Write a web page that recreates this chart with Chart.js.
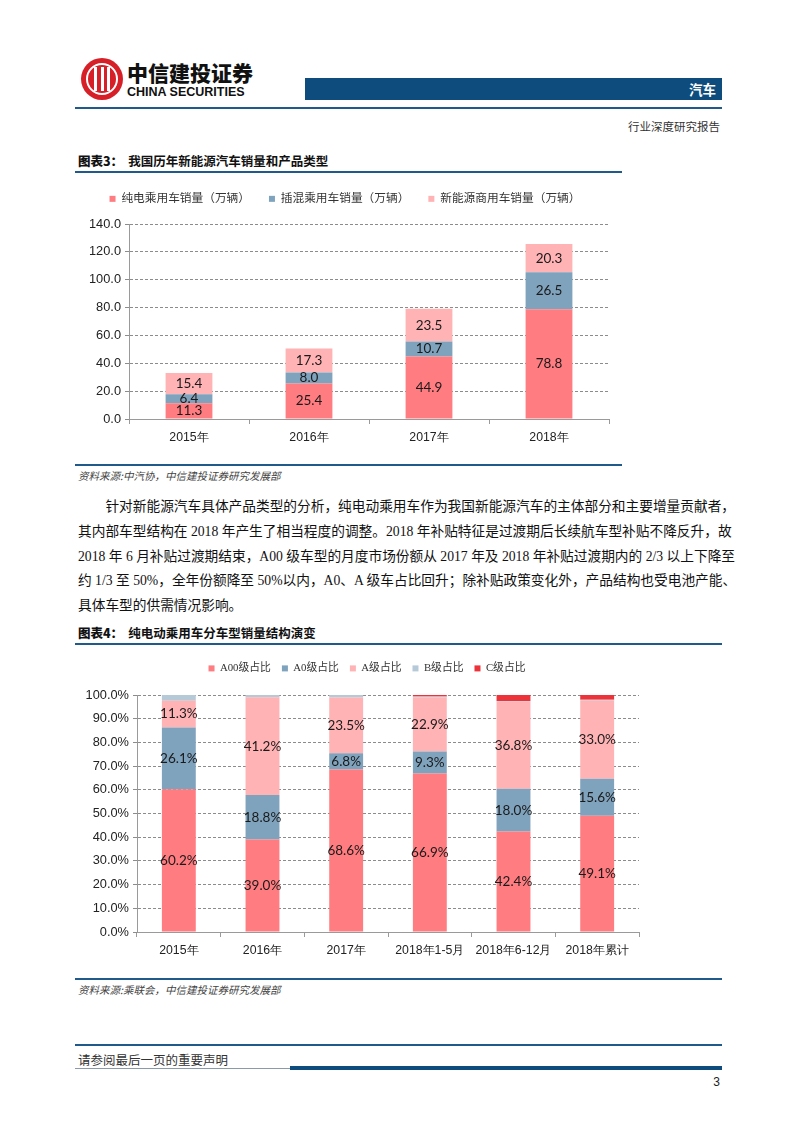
<!DOCTYPE html>
<html lang="zh">
<head>
<meta charset="UTF-8">
<title>汽车 行业深度研究报告</title>
<script src="https://cdn.jsdelivr.net/npm/chart.js"></script>
<style>
  body { margin: 0; background: #fff; }
  #page { position: relative; width: 802px; height: 1133px; background: #fff; overflow: hidden;
          font-family: "Noto Sans CJK SC", sans-serif; color: #222; }
  .abs { position: absolute; }
  .rule { position: absolute; height: 2px; background: #1f5a8a; }
  .logo { left: 81px; top: 58px; width: 42px; height: 42px; border-radius: 50%; background: #d71f27; }
  .logo .ring { position: absolute; left: 5px; top: 5px; width: 28px; height: 28px; border: 2px solid #fff; border-radius: 50%; }
  .logo .bar { position: absolute; top: 9px; width: 3px; height: 24px; background: #fff; }
  .brand { left: 127px; top: 57px; font-size: 21px; font-weight: 900; color: #111; }
  .brand-en { left: 127px; top: 85px; font-family: "Liberation Sans", Arial, sans-serif; font-size: 12.5px; font-weight: bold; color: #111; }
  .topbar { left: 305px; top: 78px; width: 417px; height: 22px; background: #0d4c7c; color: #fff;
            font-size: 13.5px; font-weight: bold; text-align: right; line-height: 22px; }
  .topbar span { padding-right: 6px; }
  .kind { right: 82px; top: 118px; font-size: 11.5px; color: #333; }
  .ctitle { left: 78px; font-size: 12.5px; font-weight: bold; color: #111; }
  .ctitle b { margin-right: 5px; }
  .src { left: 78px; font-size: 10.5px; font-style: italic; color: #444; }
  .para { left: 78px; top: 495px; width: 644px; font-family: "Liberation Serif", "Noto Sans CJK SC", serif;
          font-size: 13.7px; line-height: 24.8px; color: #111; }
  .para div { text-align: justify; text-align-last: justify; white-space: nowrap; }
  .para div.last { text-align-last: left; }
  .foot { left: 78px; top: 1050px; font-size: 12.5px; color: #333; }
  .pg { right: 82px; top: 1075px; font-family: "Liberation Sans", Arial, sans-serif; font-size: 12px; color: #222; }
</style>
</head>
<body>
<div id="page">
  <div class="abs logo"><div class="ring"></div><div class="bar" style="left:13px"></div><div class="bar" style="left:19.5px"></div><div class="bar" style="left:26px"></div></div>
  <div class="abs brand">中信建投证券</div>
  <div class="abs brand-en">CHINA SECURITIES</div>
  <div class="abs topbar"><span>汽车</span></div>
  <div class="rule" style="left:75px;top:107px;width:647px;height:1.5px;"></div>
  <div class="abs kind">行业深度研究报告</div>

  <div class="abs ctitle" style="top:151px;"><b>图表3：</b>我国历年新能源汽车销量和产品类型</div>
  <div class="rule" style="left:75px;top:171px;width:547px;"></div>
  <div class="abs" style="left:75px;top:180px;width:550px;height:270px;"><canvas id="salesChart"></canvas></div>
  <div class="rule" style="left:75px;top:464px;width:547px;height:1.5px;"></div>
  <div class="abs src" style="top:468px;">资料来源:中汽协，中信建投证券研究发展部</div>

  <div class="abs para">
    <div style="text-indent:2em;">针对新能源汽车具体产品类型的分析，纯电动乘用车作为我国新能源汽车的主体部分和主要增量贡献者，</div>
    <div>其内部车型结构在 2018 年产生了相当程度的调整。2018 年补贴特征是过渡期后长续航车型补贴不降反升，故</div>
    <div>2018 年 6 月补贴过渡期结束，A00 级车型的月度市场份额从 2017 年及 2018 年补贴过渡期内的 2/3 以上下降至</div>
    <div>约 1/3 至 50%，全年份额降至 50%以内，A0、A 级车占比回升；除补贴政策变化外，产品结构也受电池产能、</div>
    <div class="last">具体车型的供需情况影响。</div>
  </div>

  <div class="abs ctitle" style="top:623px;"><b>图表4：</b>纯电动乘用车分车型销量结构演变</div>
  <div class="rule" style="left:75px;top:643px;width:647px;"></div>
  <div class="abs" style="left:75px;top:650px;width:647px;height:315px;"><canvas id="mixChart"></canvas></div>
  <div class="rule" style="left:75px;top:978px;width:647px;height:1.5px;"></div>
  <div class="abs src" style="top:982px;">资料来源:乘联会，中信建投证券研究发展部</div>

  <div class="rule" style="left:75px;top:1044px;width:647px;"></div>
  <div class="abs foot">请参阅最后一页的重要声明</div>
  <div class="abs" style="left:75px;top:1068px;width:215px;height:1px;background:#8a9aa8;"></div>
  <div class="abs" style="left:290px;top:1066px;width:432px;height:4px;background:#0d4c7c;"></div>
  <div class="abs pg">3</div>
</div>

<script>
// 图表3 数据
const salesYears = ['2015年', '2016年', '2017年', '2018年'];
const bevPassenger = [11.3, 25.4, 44.9, 78.8];
const phevPassenger = [6.4, 8.0, 10.7, 26.5];
const nevCommercial = [15.4, 17.3, 23.5, 20.3];
const salesTicks = [0, 20, 40, 60, 80, 100, 120, 140];

// 图表4 数据
const mixPeriods = ['2015年', '2016年', '2017年', '2018年1-5月', '2018年6-12月', '2018年累计'];
const shareA00 = [60.2, 39.0, 68.6, 66.9, 42.4, 49.1];
const shareA0 = [26.1, 18.8, 6.8, 9.3, 18.0, 15.6];
const shareA = [11.3, 41.2, 23.5, 22.9, 36.8, 33.0];
const shareB = [2.4, 1.0, 1.1, 0.3, 0.3, 0.3];
const shareC = [0, 0, 0, 0.6, 2.5, 2.0];
const mixTicks = [0, 10, 20, 30, 40, 50, 60, 70, 80, 90, 100];

const xFont = { family: '"Liberation Sans", Arial, sans-serif', size: 12.3 };
const yFont = { family: '"Liberation Sans", Arial, sans-serif', size: 12.8 };
const serifCJK = '"Liberation Serif", "Noto Sans CJK SC", serif';

// 图例位置微调：固定高度、平移
const legendPlace = {
  id: 'legendPlace',
  beforeLayout(chart, args, opts) {
    const lg = chart.legend;
    if (lg && !lg._patched) {
      const fit = lg.fit;
      lg.fit = function () { fit.call(this); this.height = opts.h; };
      lg._patched = true;
    }
  },
  afterLayout(chart, args, opts) {
    const lg = chart.legend;
    lg.left += opts.dx; lg.right += opts.dx; lg.top += opts.dy;
  }
};

// 柱内数值标签
const barValues = {
  id: 'barValues',
  afterDatasetsDraw(chart, args, opts) {
    const ctx = chart.ctx;
    ctx.save();
    ctx.font = '13.5px Lato, "Open Sans", sans-serif';
    ctx.fillStyle = '#1a1a1a';
    ctx.textAlign = 'center';
    ctx.textBaseline = 'middle';
    chart.data.datasets.forEach((ds, i) => {
      if (ds.showValue === false) return;
      chart.getDatasetMeta(i).data.forEach((bar, j) => {
        const v = ds.data[j];
        if (!v) return;
        ctx.fillText(v.toFixed(1) + opts.suffix, bar.x, (bar.y + bar.base) / 2);
      });
    });
    ctx.restore();
  }
};

function stackedOptions(cfg) {
  return {
    responsive: true,
    maintainAspectRatio: false,
    animation: false,
    layout: { padding: { top: 0, right: cfg.padRight, left: 0, bottom: 0 } },
    plugins: {
      legend: {
        display: true,
        labels: {
          boxWidth: 6, boxHeight: 6, padding: cfg.legendGap, color: '#333',
          font: { family: serifCJK, size: cfg.legendSize }
        }
      },
      tooltip: { enabled: false },
      legendPlace: { h: cfg.legendH, dx: cfg.legendDx, dy: cfg.legendDy },
      barValues: { suffix: cfg.suffix }
    },
    scales: {
      x: {
        stacked: true,
        grid: { display: true, drawOnChartArea: false, color: '#9a9a9a', tickLength: 5, offset: true },
        border: { display: true, color: '#9a9a9a' },
        ticks: { color: '#222', font: xFont, padding: 6, maxRotation: 0, autoSkip: false },
        afterFit(scale) { scale.height = cfg.xH; }
      },
      y: {
        stacked: true,
        min: 0,
        max: cfg.max,
        afterBuildTicks(scale) { scale.ticks = cfg.ticks.map(v => ({ value: v })); },
        grid: { color: '#8c8c8c', lineWidth: 1, tickLength: 4, tickBorderDash: [] },
        border: { display: true, color: '#9a9a9a', dash: [3, 2] },
        ticks: {
          color: '#222', font: yFont, padding: 4,
          callback: v => v.toFixed(1) + cfg.suffix
        },
        afterFit(scale) { scale.width = cfg.yW; }
      }
    }
  };
}

new Chart(document.getElementById('salesChart'), {
  type: 'bar',
  data: {
    labels: salesYears,
    datasets: [
      { label: '纯电乘用车销量（万辆）', data: bevPassenger, backgroundColor: '#ff7c80' },
      { label: '插混乘用车销量（万辆）', data: phevPassenger, backgroundColor: '#7fa2bd' },
      { label: '新能源商用车销量（万辆）', data: nevCommercial, backgroundColor: '#ffb3b5' }
    ].map(d => Object.assign(d, { barPercentage: 0.39, categoryPercentage: 1, borderWidth: 0 }))
  },
  options: stackedOptions({
    padRight: 16, legendH: 44, legendDx: 3, legendDy: -6, legendGap: 19, legendSize: 11.7,
    xH: 31, yW: 54, max: 140, ticks: salesTicks, suffix: ''
  }),
  plugins: [legendPlace, barValues]
});

new Chart(document.getElementById('mixChart'), {
  type: 'bar',
  data: {
    labels: mixPeriods,
    datasets: [
      { label: 'A00级占比', data: shareA00, backgroundColor: '#ff7c80' },
      { label: 'A0级占比', data: shareA0, backgroundColor: '#7fa2bd' },
      { label: 'A级占比', data: shareA, backgroundColor: '#ffb3b5' },
      { label: 'B级占比', data: shareB, backgroundColor: '#b6c9d7', showValue: false },
      { label: 'C级占比', data: shareC, backgroundColor: '#ee3239', showValue: false }
    ].map(d => Object.assign(d, { barPercentage: 0.405, categoryPercentage: 1, borderWidth: 0 }))
  },
  options: stackedOptions({
    padRight: 83, legendH: 45, legendDx: 10, legendDy: 2, legendGap: 11, legendSize: 10.8,
    xH: 33, yW: 62, max: 100, ticks: mixTicks, suffix: '%'
  }),
  plugins: [legendPlace, barValues]
});
</script>
</body>
</html>
